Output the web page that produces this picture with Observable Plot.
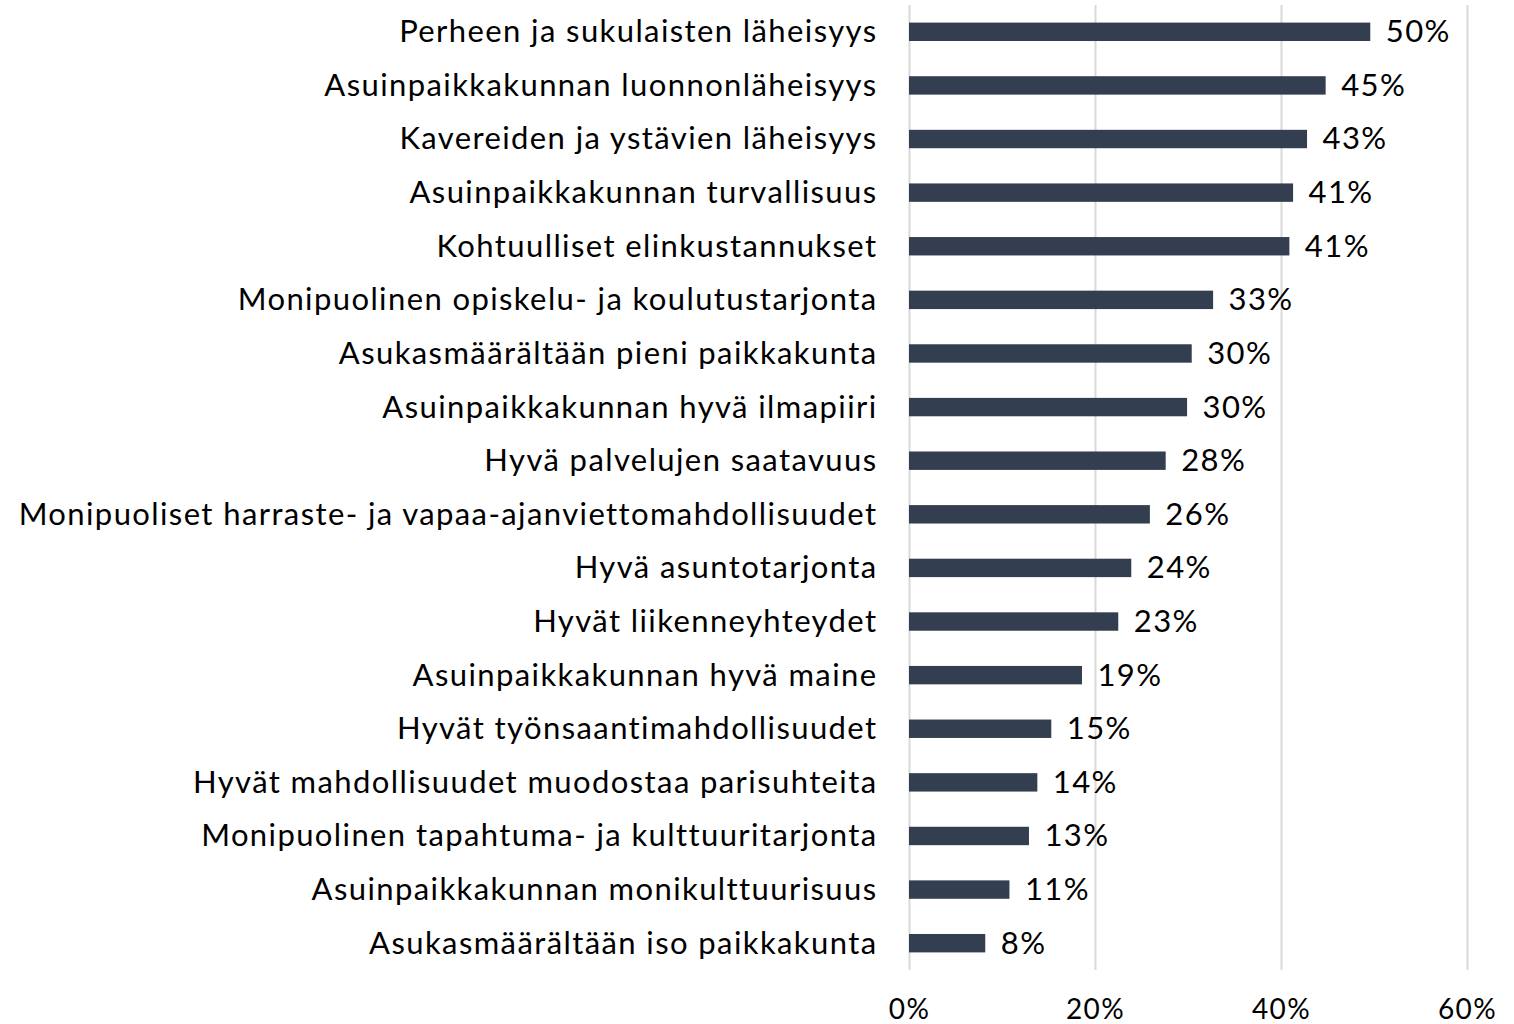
<!DOCTYPE html>
<html>
<head>
<meta charset="utf-8">
<script src="https://cdn.jsdelivr.net/npm/d3@7"></script>
<script src="https://cdn.jsdelivr.net/npm/@observablehq/plot@0.6"></script>
<style>
  html, body { margin: 0; padding: 0; background: #fff; }
  #chart svg { display: block; }
</style>
</head>
<body>
<div id="chart"></div>
<script>
const categories = [
  "Perheen ja sukulaisten läheisyys",
  "Asuinpaikkakunnan luonnonläheisyys",
  "Kavereiden ja ystävien läheisyys",
  "Asuinpaikkakunnan turvallisuus",
  "Kohtuulliset elinkustannukset",
  "Monipuolinen opiskelu- ja koulutustarjonta",
  "Asukasmäärältään pieni paikkakunta",
  "Asuinpaikkakunnan hyvä ilmapiiri",
  "Hyvä palvelujen saatavuus",
  "Monipuoliset harraste- ja vapaa-ajanviettomahdollisuudet",
  "Hyvä asuntotarjonta",
  "Hyvät liikenneyhteydet",
  "Asuinpaikkakunnan hyvä maine",
  "Hyvät työnsaantimahdollisuudet",
  "Hyvät mahdollisuudet muodostaa parisuhteita",
  "Monipuolinen tapahtuma- ja kulttuuritarjonta",
  "Asuinpaikkakunnan monikulttuurisuus",
  "Asukasmäärältään iso paikkakunta"
];
const values = [0.496, 0.448, 0.428, 0.413, 0.409, 0.327, 0.304, 0.299, 0.276, 0.259, 0.239, 0.225, 0.186, 0.153, 0.138, 0.129, 0.108, 0.082];
const xTicks = [0, 0.2, 0.4, 0.6];

const data = categories.map((c, i) => ({category: c, value: values[i]}));
const font = "Lato, 'Noto Sans', sans-serif";

const chart = Plot.plot({
  width: 1514,
  height: 1024,
  marginLeft: 909,
  marginRight: 47,
  marginTop: 5,
  marginBottom: 54,
  style: {fontFamily: font, fontSize: "30px", color: "#000", background: "#fff", letterSpacing: "1.4px"},
  x: {domain: [0, 0.6], ticks: xTicks, tickFormat: d3.format(".0%")},
  y: {domain: categories, padding: 0, round: false},
  marks: [
    Plot.gridX(xTicks, {stroke: "#d9d9d9", strokeOpacity: 1, strokeWidth: 2}),
    Plot.axisX({ticks: xTicks, tickFormat: d3.format(".0%"), tickSize: 0, tickPadding: 29, fontSize: 28, label: null}),
    Plot.axisY({tickSize: 0, tickPadding: 32, fontSize: 31, label: null}),
    Plot.barX(data, {x: "value", y: "category", fill: "#333f50", insetTop: 17.6, insetBottom: 17.6}),
    Plot.text(data, {x: "value", y: "category", text: d => d3.format(".0%")(d.value), textAnchor: "start", dx: 15, fontSize: 31, fill: "#000"})
  ]
});
document.getElementById("chart").appendChild(chart);
</script>
</body>
</html>
